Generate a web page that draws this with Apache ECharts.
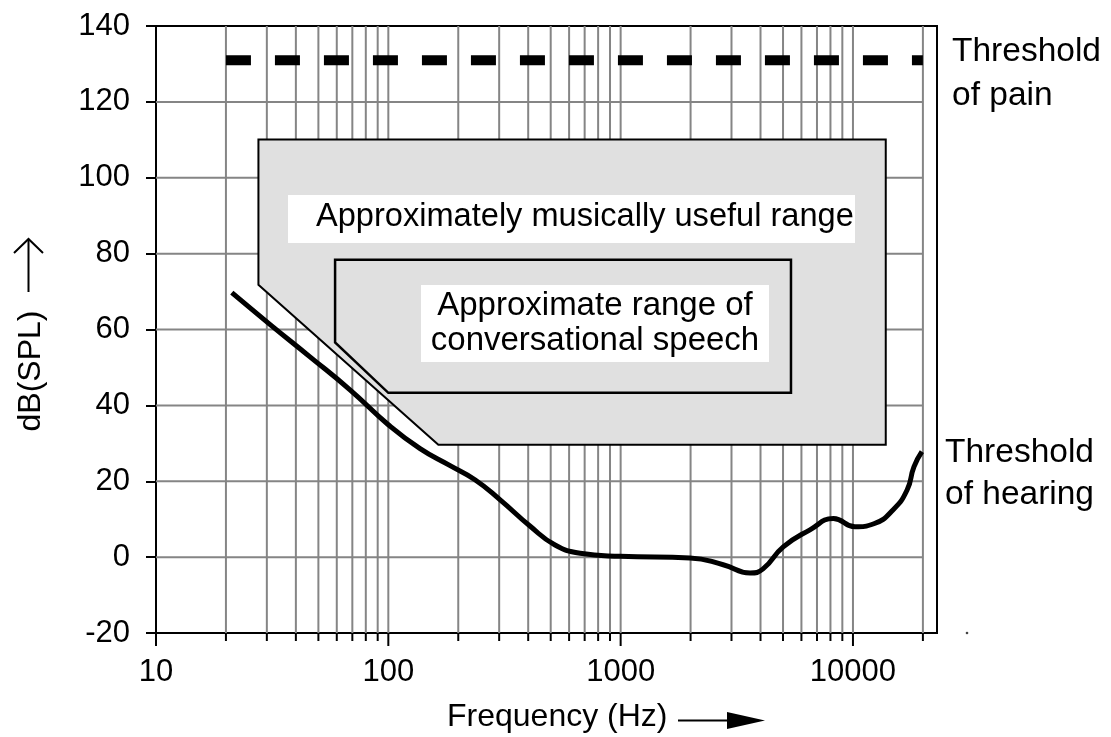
<!DOCTYPE html>
<html><head><meta charset="utf-8">
<script src="https://cdn.jsdelivr.net/npm/echarts@6/dist/echarts.min.js"></script>
<style>html,body{margin:0;padding:0;background:#fff}#c{width:1111px;height:737px}</style>
</head><body><div id="c"></div>
<script>
// ---- data ----
const majorFreqs = [10, 100, 1000, 10000];
const gridFreqs = [20,30,40,50,60,70,80,90,100,200,300,400,500,600,700,800,900,1000,
                   2000,3000,4000,5000,6000,7000,8000,9000,10000,20000];
const dbGrid = [0, 20, 40, 60, 80, 100, 120];

const hearingFreq = [21.2, 31, 46, 68.4, 100, 137, 184.5, 236, 303, 407, 522, 669, 993, 1990, 2763, 3607, 4102, 5010, 6530, 8240, 10200, 12300, 14900, 17100, 18300, 19800];
const hearingDb   = [69.7, 61.3, 52.8, 44.1, 34.9, 28.6, 24.1, 20.4, 15.1, 8.2, 3.2, 1.0, 0.2, -0.2, -2.0, -4.2, -3.1, 2.7, 7.2, 10.2, 8.0, 8.8, 12.5, 17.7, 23.8, 27.8];

const painFreq = [20, 20000];
const painDb = [131, 131];

const musicFreq = [27.6, 27.6, 13840, 13840, 164.2];
const musicDb   = [71.8, 110.1, 110.1, 29.6, 29.6];

const speechFreq = [59, 59, 5410, 5410, 100];
const speechDb   = [56.6, 78.4, 78.4, 43.3, 43.3];

// ---- chart ----
const FONT = "'Liberation Sans', Arial, Helvetica, sans-serif";
const GRID_COLOR = '#858585';
const chart = echarts.init(document.getElementById('c'));

function polygonSeries(fs, ds, fill, lw, z) {
  return {
    type: 'custom', coordinateSystem: 'cartesian2d', z: z, silent: true,
    data: [[fs[0], ds[0]]],
    encode: { x: 0, y: 1 },
    renderItem: function (params, api) {
      const pts = fs.map((f, i) => api.coord([f, ds[i]]));
      return { type: 'polygon', shape: { points: pts },
               style: { fill: fill, stroke: '#000', lineWidth: lw, lineJoin: 'miter' } };
    }
  };
}

const tickFreqs = [10].concat(gridFreqs);

const option = {
  animation: false,
  backgroundColor: '#fff',
  grid: { left: 156, right: 174, top: 26, bottom: 104, show: true,
          borderColor: '#000', borderWidth: 2, backgroundColor: 'transparent' },
  xAxis: {
    type: 'log', logBase: 10, min: 10, max: 23000,
    axisLine: { show: true, onZero: false, lineStyle: { color: '#000', width: 2 } },
    axisTick: { show: false }, splitLine: { show: false }, minorTick: { show: false },
    axisLabel: { color: '#000', fontSize: 31, fontFamily: FONT, margin: 24,
                 showMaxLabel: false,
                 formatter: function (v) { return v > 15000 ? '' : String(Math.round(v)); } }
  },
  yAxis: {
    type: 'value', min: -20, max: 140, interval: 20,
    axisLine: { show: true, onZero: false, lineStyle: { color: '#000', width: 2 } },
    axisTick: { show: true, length: 10, lineStyle: { color: '#000', width: 2 } },
    splitLine: { show: false },
    axisLabel: { color: '#000', fontSize: 31, fontFamily: FONT, margin: 26 }
  },
  series: [
    // vertical grid lines
    {
      type: 'custom', coordinateSystem: 'cartesian2d', z: 1, silent: true,
      data: gridFreqs.map(f => [f, -20]), encode: { x: 0, y: 1 },
      renderItem: function (params, api) {
        const f = api.value(0);
        const t = api.coord([f, 140]), b = api.coord([f, -20]);
        return { type: 'line', shape: { x1: t[0], y1: t[1], x2: b[0], y2: b[1] },
                 style: { stroke: GRID_COLOR, lineWidth: 2 } };
      }
    },
    // horizontal grid lines
    {
      type: 'custom', coordinateSystem: 'cartesian2d', z: 1, silent: true,
      data: dbGrid.map(v => [10, v]), encode: { x: 0, y: 1 },
      renderItem: function (params, api) {
        const v = api.value(1);
        const a = api.coord([10, v]), b = api.coord([20000, v]);
        return { type: 'line', shape: { x1: a[0], y1: a[1], x2: b[0], y2: b[1] },
                 style: { stroke: GRID_COLOR, lineWidth: 2 } };
      }
    },
    // x-axis ticks
    {
      type: 'custom', coordinateSystem: 'cartesian2d', z: 6, silent: true,
      data: tickFreqs.map(f => [f, -20]), encode: { x: 0, y: 1 },
      renderItem: function (params, api) {
        const f = api.value(0);
        const b = api.coord([f, -20]);
        const len = majorFreqs.indexOf(f) >= 0 ? 13 : 8;
        return { type: 'line', shape: { x1: b[0], y1: b[1], x2: b[0], y2: b[1] + len },
                 style: { stroke: '#000', lineWidth: 2 } };
      }
    },
    polygonSeries(musicFreq, musicDb, '#e0e0e0', 2, 2),
    polygonSeries(speechFreq, speechDb, 'transparent', 2.5, 3),
    {
      type: 'line', z: 4, silent: true, symbol: 'none',
      data: painFreq.map((f, i) => [f, painDb[i]]),
      lineStyle: { color: '#000', width: 10, type: [25, 24], cap: 'butt' }
    },
    {
      type: 'line', z: 5, silent: true, symbol: 'none', smooth: 0.5,
      data: hearingFreq.map((f, i) => [f, hearingDb[i]]),
      lineStyle: { color: '#000', width: 5 }
    }
  ],
  graphic: [
    { type: 'rect', z: 100, shape: { x: 288, y: 195, width: 567, height: 48 }, style: { fill: '#fff' } },
    { type: 'text', z: 101, x: 316, y: 217,
      style: { text: 'Approximately musically useful range', fontSize: 32.6, fontFamily: FONT,
               fill: '#000', verticalAlign: 'middle', align: 'left' } },
    { type: 'rect', z: 100, shape: { x: 421, y: 285, width: 348, height: 77 }, style: { fill: '#fff' } },
    { type: 'text', z: 101, x: 595, y: 323.5,
      style: { text: 'Approximate range of\nconversational speech', fontSize: 33, fontFamily: FONT,
               lineHeight: 35, fill: '#000', verticalAlign: 'middle', align: 'center' } },
    { type: 'text', z: 101, x: 952, y: 30,
      style: { text: 'Threshold\nof pain', fontSize: 33.5, fontFamily: FONT, lineHeight: 44,
               fill: '#000', verticalAlign: 'top', align: 'left' } },
    { type: 'text', z: 101, x: 945, y: 432,
      style: { text: 'Threshold\nof hearing', fontSize: 33.5, fontFamily: FONT, lineHeight: 42,
               fill: '#000', verticalAlign: 'top', align: 'left' } },
    { type: 'text', z: 101, x: 447, y: 717,
      style: { text: 'Frequency (Hz)', fontSize: 32, fontFamily: FONT,
               fill: '#000', verticalAlign: 'middle', align: 'left' } },
    { type: 'line', z: 101, shape: { x1: 678, y1: 720.5, x2: 735, y2: 720.5 }, style: { stroke: '#000', lineWidth: 2 } },
    { type: 'polygon', z: 101, shape: { points: [[727, 712], [765, 720.5], [727, 729]] }, style: { fill: '#000' } },
    { type: 'text', z: 101, x: 31, y: 371, rotation: Math.PI / 2,
      style: { text: 'dB(SPL)', fontSize: 32, fontFamily: FONT,
               fill: '#000', verticalAlign: 'middle', align: 'center' } },
    { type: 'line', z: 101, shape: { x1: 28.5, y1: 292, x2: 28.5, y2: 239 }, style: { stroke: '#000', lineWidth: 2 } },
    { type: 'polyline', z: 101, shape: { points: [[14, 253], [28.5, 239], [43, 253]] }, style: { stroke: '#000', lineWidth: 2, fill: null } },
    { type: 'circle', z: 101, shape: { cx: 967, cy: 633, r: 1.3 }, style: { fill: '#444' } }
  ]
};
chart.setOption(option);
</script>
</body></html>
